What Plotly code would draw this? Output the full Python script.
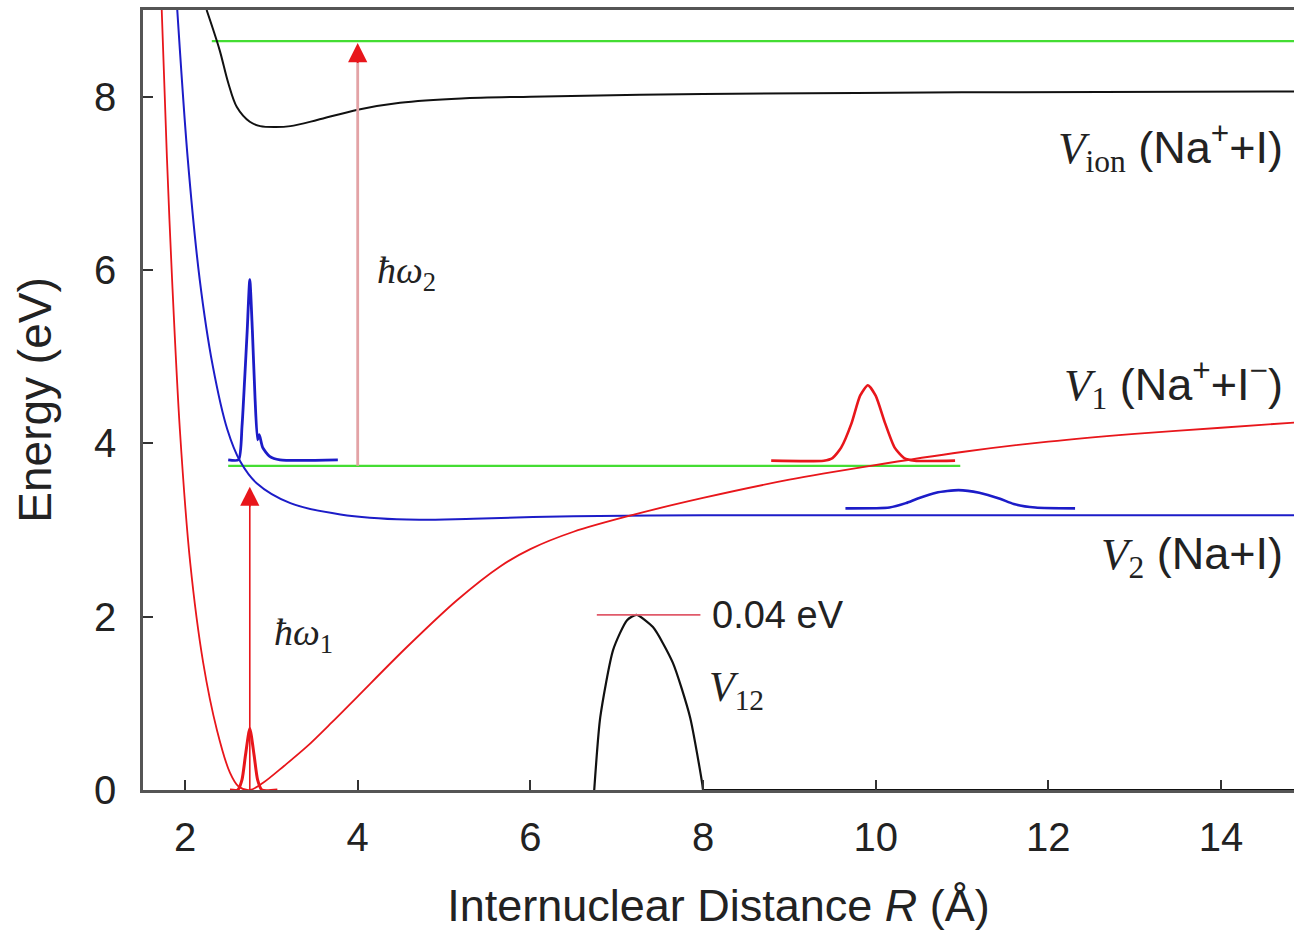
import plotly.graph_objects as go

# ---------------- data ----------------
# V1 (Na+ + I-) ionic curve, red
v1_r = [1.73, 1.79, 1.85, 1.94, 2.06, 2.21, 2.37, 2.52, 2.62, 2.75, 2.90, 3.15, 3.41, 3.70,
        3.99, 4.57, 5.15, 5.65, 6.00, 6.50, 7.21, 8.00, 9.00, 9.94, 11.0, 12.0, 13.0, 14.0, 14.85]
v1_e = [9.0, 7.3, 5.89, 4.16, 2.62, 1.47, 0.69, 0.20, 0.04, 0.0, 0.08, 0.28, 0.50, 0.78,
        1.07, 1.65, 2.19, 2.58, 2.78, 2.98, 3.18, 3.37, 3.58, 3.74, 3.90, 4.02, 4.11, 4.18, 4.24]

# V2 (Na + I) covalent curve, blue
v2_r = [1.91, 2.03, 2.17, 2.32, 2.49, 2.64, 2.83, 3.22, 3.80, 4.57, 5.34, 6.50, 8.0, 10.0, 12.0, 14.85]
v2_e = [9.0, 7.3, 5.89, 4.90, 4.16, 3.79, 3.54, 3.31, 3.18, 3.12, 3.13, 3.16, 3.17, 3.17, 3.17, 3.17]

# V_ion (Na+ + I), black
vion_r = [2.25, 2.40, 2.50, 2.60, 2.75, 2.87, 3.05, 3.22, 3.53, 4.00, 4.49, 5.20, 6.00, 8.0, 11.0, 14.85]
vion_e = [9.0, 8.54, 8.16, 7.88, 7.71, 7.66, 7.65, 7.66, 7.73, 7.85, 7.93, 7.98, 8.00, 8.03, 8.05, 8.06]

# V12 coupling, black (bump, then zero tail)
v12_r = [6.74, 6.81, 6.96, 7.12, 7.23, 7.42, 7.65, 7.85, 7.99, 8.00]
v12_e = [0.0, 0.84, 1.62, 1.96, 2.02, 1.88, 1.47, 0.84, 0.08, 0.0]
v12_tail_r = [8.00, 14.85]
v12_tail_e = [0.0, 0.0]

# photon energy levels, green
lev_hi_r = [2.31, 14.85]
lev_hi_e = [8.64, 8.64]
lev_lo_r = [2.50, 10.98]
lev_lo_e = [3.74, 3.74]

# wave packets
wp_ground_r = [2.52, 2.61, 2.66, 2.70, 2.75, 2.80, 2.84, 2.89, 3.07]
wp_ground_e = [0.0, 0.0, 0.12, 0.40, 0.71, 0.40, 0.12, 0.0, 0.0]

wp_excited_r = [2.50, 2.62, 2.66, 2.69, 2.72, 2.75, 2.78, 2.81, 2.84, 2.86, 2.90, 2.98, 3.10, 3.77]
wp_excited_e = [3.81, 3.81, 4.20, 4.73, 5.30, 5.89, 5.30, 4.54, 4.04, 4.10, 3.95, 3.85, 3.81, 3.81]

wp_ionic_r = [8.79, 9.40, 9.50, 9.60, 9.72, 9.82, 9.91, 10.00, 10.11, 10.22, 10.33, 10.45, 10.92]
wp_ionic_e = [3.80, 3.80, 3.83, 3.95, 4.23, 4.55, 4.67, 4.55, 4.23, 3.95, 3.83, 3.80, 3.80]

wp_cov_r = [9.65, 10.16, 10.35, 10.48, 10.70, 10.96, 11.20, 11.44, 11.60, 11.85, 12.31]
wp_cov_e = [3.25, 3.26, 3.31, 3.36, 3.43, 3.46, 3.43, 3.36, 3.30, 3.26, 3.25]

# 0.04 eV marker
mark_r = [6.77, 7.97]
mark_e = [2.02, 2.02]

# pump / probe arrows: (R, E_start, E_end)
pump = (2.75, 0.0, 3.50)
probe = (4.00, 3.74, 8.62)

x_ticks = [2, 4, 6, 8, 10, 12, 14]
y_ticks = [0, 2, 4, 6, 8]

RED = "#e8161b"
BLUE = "#1c1cc8"
GREEN = "#44dd33"
BLACK = "#111111"
SANS = "Liberation Sans, Arial, sans-serif"
SERIF = "Liberation Serif, Times New Roman, serif"

fig = go.Figure()

def line(x, y, color, width=2.0, smooth=0.9):
    fig.add_trace(go.Scatter(x=x, y=y, mode="lines",
                             line=dict(color=color, width=width, shape="spline", smoothing=smooth),
                             hoverinfo="skip", showlegend=False))

def straight(x, y, color, width=2.0):
    fig.add_trace(go.Scatter(x=x, y=y, mode="lines", line=dict(color=color, width=width),
                             hoverinfo="skip", showlegend=False))

straight(lev_hi_r, lev_hi_e, GREEN, 2.2)
straight(lev_lo_r, lev_lo_e, GREEN, 2.2)
line(vion_r, vion_e, BLACK, 2.0)
line(v2_r, v2_e, BLUE, 2.0)
line(v1_r, v1_e, RED, 1.8)
line(v12_r, v12_e, BLACK, 2.2, 0.6)
straight(v12_tail_r, v12_tail_e, BLACK, 2.2)
straight(mark_r, mark_e, "#e05a6a", 1.8)

# probe arrow shaft (pink)
straight([probe[0], probe[0]], [probe[1], probe[2] - 0.2], "#e3a3a6", 2.8)
# pump arrow shaft (red)
straight([pump[0], pump[0]], [pump[1], pump[2] - 0.15], RED, 1.6)

line(wp_ground_r, wp_ground_e, RED, 3.0, 0.6)
line(wp_excited_r, wp_excited_e, BLUE, 2.8, 0.6)
line(wp_ionic_r, wp_ionic_e, RED, 2.6, 0.6)
line(wp_cov_r, wp_cov_e, BLUE, 2.6, 0.6)

# arrow heads
for (r, e0, e1) in (pump, probe):
    fig.add_annotation(x=r, y=e1, ax=r, ay=e1 - 0.25, xref="x", yref="y", axref="x", ayref="y",
                       text="", showarrow=True, arrowhead=2, arrowsize=2.4, arrowwidth=1.6,
                       arrowcolor=RED, standoff=0)

def label(x, y, txt, xanchor="left", size=40):
    fig.add_annotation(x=x, y=y, xref="x", yref="y", text=txt, showarrow=False,
                       xanchor=xanchor, yanchor="middle", font=dict(family=SANS, size=size, color="#222"))

serif = lambda s: f"<span style='font-family:{SERIF}'>{s}</span>"

label(14.74, 7.42, serif("<i>V</i><sub>ion</sub>") + " (Na<sup>+</sup>+I)", "right", 45)
label(14.74, 4.68, serif("<i>V</i><sub>1</sub>") + " (Na<sup>+</sup>+I<sup>−</sup>)", "right", 45)
label(14.74, 2.69, serif("<i>V</i><sub>2</sub>") + " (Na+I)", "right", 45)
label(4.20, 5.97, serif("<i>ħω</i><sub>2</sub>"), "left", 38)
label(3.01, 1.79, serif("<i>ħω</i><sub>1</sub>"), "left", 38)
label(8.05, 1.15, serif("<i>V</i><sub>12</sub>"), "left", 42)
label(8.08, 2.02, "0.04 eV", "left", 38)

fig.update_layout(
    width=1294, height=931,
    margin=dict(l=143, r=0, t=10, b=141),
    paper_bgcolor="white", plot_bgcolor="white",
    font=dict(family=SANS, size=40, color="#222"),
    showlegend=False,
)
fig.update_xaxes(range=[1.513, 14.846], tickvals=x_ticks, ticks="inside", ticklen=10, tickwidth=2,
                 tickcolor="#333", showline=True, linecolor="#555", linewidth=2.5, mirror=True,
                 showgrid=False, zeroline=False, ticklabelstandoff=10,
                 tickfont=dict(size=40),
                 title=dict(text="Internuclear Distance <i>R</i> (Å)", font=dict(size=45), standoff=32))
fig.update_yaxes(range=[0, 9.0], tickvals=y_ticks, ticks="inside", ticklen=10, tickwidth=2,
                 tickcolor="#333", showline=True, linecolor="#555", linewidth=2.5,
                 showgrid=False, zeroline=False, ticklabelstandoff=16,
                 tickfont=dict(size=40),
                 title=dict(text="Energy (eV)", font=dict(size=46), standoff=28))

fig.write_html("out.html")
